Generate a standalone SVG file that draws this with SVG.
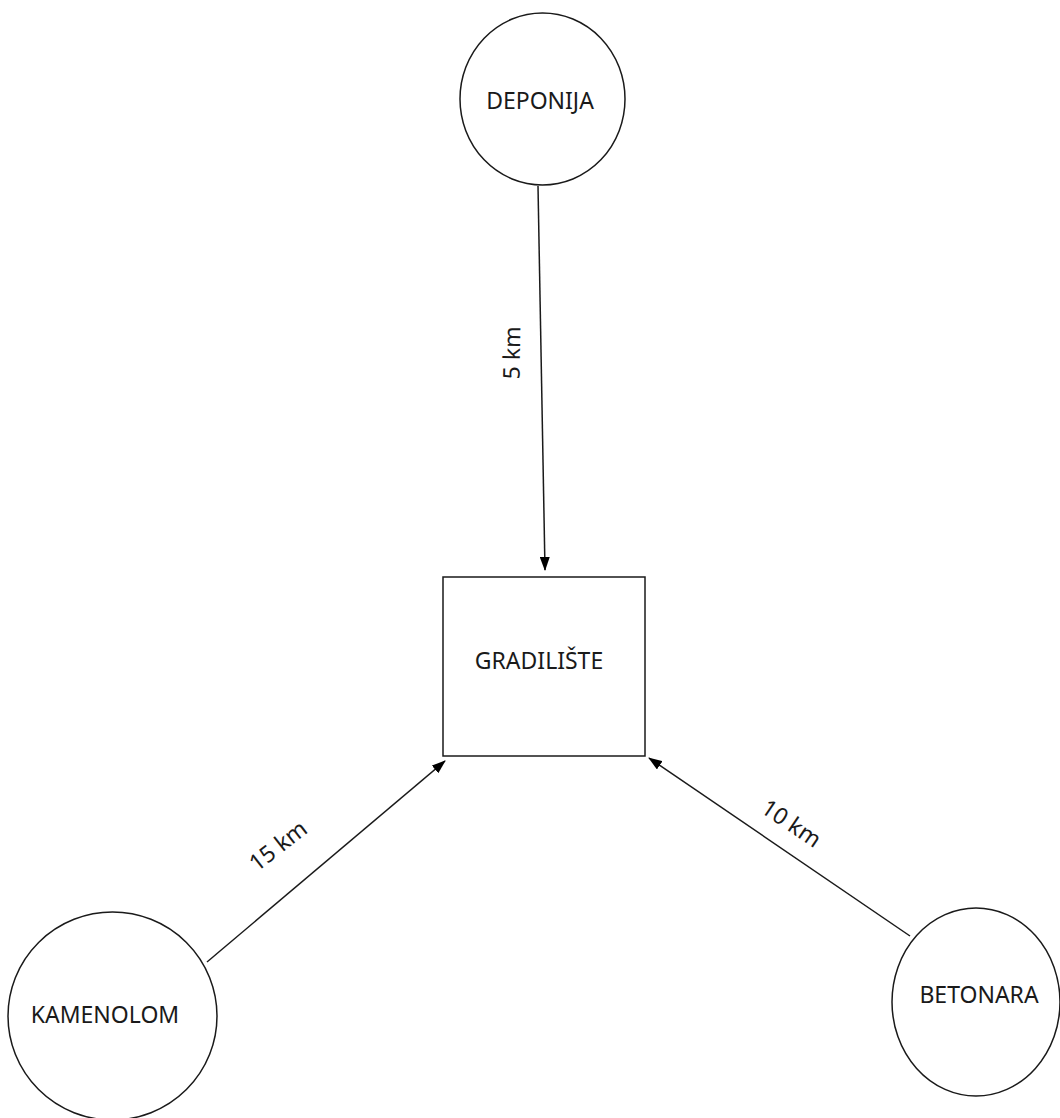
<svg xmlns="http://www.w3.org/2000/svg" width="1060" height="1118" viewBox="0 0 1060 1118">
<style>
.node{fill:#fff;stroke:#1a1a1a;stroke-width:1.5}
.lbl{font-family:"Noto Sans",sans-serif;font-size:23px;fill:#1a1a1a;text-anchor:middle}
.edge{stroke:#1a1a1a;stroke-width:1.5;fill:none}
</style>
<defs>
<marker id="arr" markerWidth="14" markerHeight="10" refX="13" refY="5" orient="auto" markerUnits="userSpaceOnUse">
<path d="M0,0 L14,5 L0,10 z" fill="#000"/>
</marker>
</defs>
<rect width="1060" height="1118" fill="#fff"/>
<g id="edges">
<line class="edge" x1="538" y1="186" x2="545" y2="570" marker-end="url(#arr)"/>
<line class="edge" x1="207" y1="962" x2="445" y2="761" marker-end="url(#arr)"/>
<line class="edge" x1="910" y1="936" x2="649" y2="758" marker-end="url(#arr)"/>
<text class="lbl" transform="translate(520,353) rotate(-89)">5 km</text>
<text class="lbl" transform="translate(283,852) rotate(-38)">15 km</text>
<text class="lbl" transform="translate(787,830) rotate(34)">10 km</text>
</g>
<g id="deponija">
<ellipse class="node" cx="542.5" cy="99" rx="82.5" ry="86"/>
<text class="lbl" x="540" y="109">DEPONIJA</text>
</g>
<g id="gradiliste">
<rect class="node" x="443" y="577" width="202" height="179"/>
<text class="lbl" x="539" y="669">GRADILIŠTE</text>
</g>
<g id="kamenolom">
<ellipse class="node" cx="112.5" cy="1016" rx="104.5" ry="104"/>
<text class="lbl" x="105" y="1023">KAMENOLOM</text>
</g>
<g id="betonara">
<ellipse class="node" cx="976" cy="1002" rx="84" ry="94"/>
<text class="lbl" x="979" y="1003">BETONARA</text>
</g>
</svg>
